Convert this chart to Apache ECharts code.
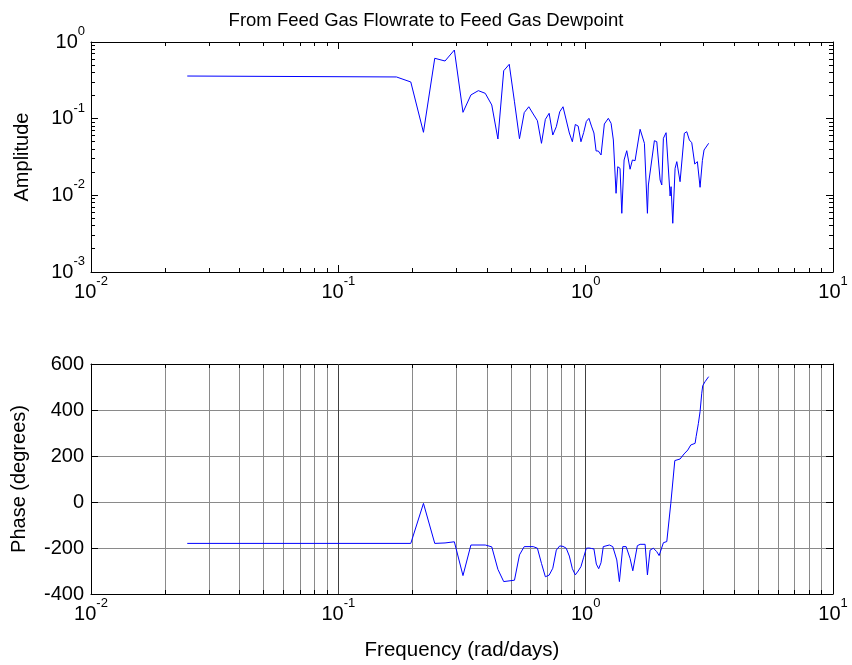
<!DOCTYPE html>
<html>
<head>
<meta charset="utf-8">
<title>From Feed Gas Flowrate to Feed Gas Dewpoint</title>
<script src="https://cdn.jsdelivr.net/npm/echarts@6/dist/echarts.min.js"></script>
<style>
  html, body { margin: 0; padding: 0; background: #fff; }
  #chart { width: 852px; height: 665px; }
</style>
</head>
<body>
<div id="chart"></div>
<script>
// Frequency response estimate: feed gas flowrate -> feed gas dewpoint

// Amplitude curve (frequency in rad/days, amplitude ratio)
const AMP_FREQ = [
  0.0245, 0.1718, 0.1963, 0.2209, 0.2454, 0.2700, 0.2945, 0.3191, 0.3436, 0.3682,
  0.3927, 0.4172, 0.4418, 0.4663, 0.4909, 0.5154, 0.5400, 0.5645, 0.5890, 0.6136,
  0.6381, 0.6627, 0.6872, 0.7118, 0.7363, 0.7609, 0.7854, 0.8099, 0.8345, 0.8590,
  0.8836, 0.9081, 0.9327, 0.9572, 0.9817, 1.0063, 1.0308, 1.0554, 1.0799, 1.102,
  1.125, 1.154, 1.190, 1.235, 1.267, 1.294, 1.327, 1.348, 1.377, 1.400,
  1.430, 1.466, 1.512, 1.545, 1.584, 1.609, 1.660, 1.691, 1.728, 1.777,
  1.793, 1.822, 1.896, 1.939, 2.000, 2.031, 2.062, 2.114, 2.195, 2.215,
  2.250, 2.299, 2.336, 2.370, 2.408, 2.447, 2.506, 2.563, 2.626, 2.685,
  2.761, 2.829, 2.901, 2.964, 3.010, 3.142
];
const AMPLITUDE = [
  0.360, 0.350, 0.301, 0.0664, 0.613, 0.565, 0.786, 0.121, 0.204, 0.232,
  0.214, 0.151, 0.0543, 0.422, 0.512, 0.166, 0.0548, 0.120, 0.143, 0.115,
  0.094, 0.0477, 0.098, 0.1175, 0.0612, 0.0785, 0.123, 0.143, 0.096, 0.065,
  0.050, 0.084, 0.080, 0.050, 0.066, 0.092, 0.101, 0.080, 0.065, 0.0379,
  0.0379, 0.0336, 0.0852, 0.1011, 0.0870, 0.0527, 0.01063, 0.0236, 0.0225, 0.00583,
  0.0289, 0.0382, 0.0219, 0.0289, 0.0283, 0.0390, 0.0727, 0.0697, 0.0477, 0.00583,
  0.01364, 0.01364, 0.0516, 0.0501, 0.01585, 0.01364, 0.0555, 0.0656, 0.0098, 0.01297,
  0.00432, 0.0225, 0.0275, 0.0275, 0.01506, 0.01506, 0.0645, 0.0676, 0.0527, 0.0486,
  0.0256, 0.0275, 0.01273, 0.0283, 0.0390, 0.0477
];

// Phase curve (frequency in rad/days, phase in degrees)
const PHASE_FREQ = [
  0.0245, 0.1963, 0.2209, 0.2454, 0.2700, 0.2945, 0.3191, 0.3436, 0.3927, 0.4172,
  0.4418, 0.4663, 0.5154, 0.5400, 0.5645, 0.6136, 0.6381, 0.6627, 0.6872, 0.7118,
  0.7363, 0.7609, 0.7854, 0.8099, 0.8345, 0.8590, 0.8836, 0.9081, 0.9327, 0.9572,
  0.9817, 1.0063, 1.0308, 1.0554, 1.0799, 1.1045, 1.1290, 1.1536, 1.1781, 1.247,
  1.287, 1.336, 1.369, 1.413, 1.457, 1.512, 1.551, 1.618, 1.660, 1.739,
  1.777, 1.822, 1.878, 1.939, 1.981, 2.062, 2.128, 2.160, 2.209, 2.236,
  2.293, 2.336, 2.408, 2.500, 2.588, 2.661, 2.770, 2.796, 2.856, 2.901,
  2.947, 2.974, 3.039, 3.142
];
const PHASE = [
  -180, -180, -6, -180, -178, -173, -320, -187, -187, -195,
  -293, -346, -340, -230, -194, -194, -201, -267, -325, -318,
  -288, -209, -191, -193, -201, -235, -290, -317, -300, -281,
  -240, -201, -200, -202, -204, -270, -290, -264, -194, -187,
  -194, -252, -346, -194, -194, -245, -299, -190, -184, -184,
  -317, -209, -201, -216, -233, -177, -172, -165, -6, -3,
  180, 175, 187, 209, 226, 248, 255, 284, 342, 393,
  473, 506, 523, 545
];

// Axis ticks
const FREQ_DECADES = [0.01, 0.1, 1, 10];
const AMP_DECADES = [0.001, 0.01, 0.1, 1];
const PHASE_TICKS = [-400, -200, 0, 200, 400, 600];

function minorLogTicks(decades) {
  const out = [];
  for (let i = 0; i < decades.length - 1; i++) {
    for (let m = 2; m <= 9; m++) out.push(+(m * decades[i]).toPrecision(3));
  }
  return out;
}
const FREQ_MINOR = minorLogTicks(FREQ_DECADES);
const AMP_MINOR = minorLogTicks(AMP_DECADES);

const FONT = '"Liberation Sans", Arial, Helvetica, sans-serif';
const BLUE = '#0000ff';
const GRID_GRAY = '#8a8a8a';
const GRID_DARK = '#404040';

const chart = echarts.init(document.getElementById('chart'), null, { renderer: 'canvas' });

function powerLabel(v) {
  const e = Math.round(Math.log10(v));
  return '{b|10}{e|' + e + '}';
}
const powerRich = {
  b: { fontSize: 20, lineHeight: 20, fontFamily: FONT, color: '#000' },
  e: { fontSize: 13, lineHeight: 13, fontFamily: FONT, color: '#000', padding: [0, 0, 21, 0] }
};

// Crisp 1px position matching the axis tick placement
function crisp(v) { return Math.floor(v) + 0.5; }

function logXAxis(gridIndex, position, withLabels, extra) {
  return Object.assign({
    type: 'log', logBase: 10, gridIndex, position,
    min: FREQ_DECADES[0], max: FREQ_DECADES[FREQ_DECADES.length - 1], splitNumber: 3,
    axisLine: { show: true, onZero: false, lineStyle: { color: '#000', width: 1 } },
    axisTick: { show: true, inside: true, length: 7, lineStyle: { color: '#000' } },
    axisLabel: withLabels ? {
      show: true, margin: 10, formatter: powerLabel, rich: powerRich,
      showMinLabel: true, showMaxLabel: true, hideOverlap: false
    } : { show: false },
    splitLine: { show: false }, minorTick: { show: false }
  }, extra || {});
}

function ampYAxis(position, withLabels) {
  return {
    type: 'log', logBase: 10, gridIndex: 0, position,
    min: AMP_DECADES[0], max: AMP_DECADES[AMP_DECADES.length - 1], splitNumber: 3,
    name: withLabels ? 'Amplitude' : '', nameLocation: 'middle', nameGap: 59,
    nameTextStyle: { fontSize: 20, fontFamily: FONT, color: '#000' },
    axisLine: { show: true, onZero: false, lineStyle: { color: '#000', width: 1 } },
    axisTick: { show: true, inside: true, length: 7, lineStyle: { color: '#000' } },
    axisLabel: withLabels ? {
      show: true, margin: 6, formatter: powerLabel, rich: powerRich,
      showMinLabel: true, showMaxLabel: true, hideOverlap: false
    } : { show: false },
    splitLine: { show: false }, minorTick: { show: false }
  };
}

function phaseYAxis(position, withLabels) {
  return {
    type: 'value', gridIndex: 1, position,
    min: PHASE_TICKS[0], max: PHASE_TICKS[PHASE_TICKS.length - 1], interval: 200,
    name: withLabels ? 'Phase (degrees)' : '', nameLocation: 'middle', nameGap: 62,
    nameTextStyle: { fontSize: 20, fontFamily: FONT, color: '#000' },
    axisLine: { show: true, onZero: false, lineStyle: { color: '#000', width: 1 } },
    axisTick: { show: true, inside: true, length: 7, lineStyle: { color: '#000' } },
    axisLabel: withLabels ? {
      show: true, margin: 7, fontSize: 20, fontFamily: FONT, color: '#000',
      showMinLabel: true, showMaxLabel: true, hideOverlap: false
    } : { show: false },
    splitLine: withLabels ? { show: true, lineStyle: { color: GRID_GRAY, width: 1 } } : { show: false }
  };
}

// Short inward ticks on the top and bottom edges of a plot box
function xMinorTickSeries(xAxisIndex, yAxisIndex, yRef) {
  return {
    type: 'custom', xAxisIndex, yAxisIndex, silent: true, z: 5, clip: false,
    data: FREQ_MINOR.map(v => [v, yRef]),
    renderItem(params, api) {
      const cs = params.coordSys;
      const x = crisp(api.coord([api.value(0), yRef])[0]);
      const st = { stroke: '#000', lineWidth: 1 };
      return { type: 'group', children: [
        { type: 'line', shape: { x1: x, y1: cs.y + cs.height, x2: x, y2: cs.y + cs.height - 4 }, style: st },
        { type: 'line', shape: { x1: x, y1: cs.y, x2: x, y2: cs.y + 4 }, style: st }
      ] };
    }
  };
}

// Short inward ticks on the left and right edges of the amplitude box
function yMinorTickSeries() {
  return {
    type: 'custom', xAxisIndex: 0, yAxisIndex: 0, silent: true, z: 5, clip: false,
    data: AMP_MINOR.map(v => [1, v]),
    renderItem(params, api) {
      const cs = params.coordSys;
      const y = crisp(api.coord([1, api.value(1)])[1]);
      const st = { stroke: '#000', lineWidth: 1 };
      return { type: 'group', children: [
        { type: 'line', shape: { x1: cs.x, y1: y, x2: cs.x + 4, y2: y }, style: st },
        { type: 'line', shape: { x1: cs.x + cs.width, y1: y, x2: cs.x + cs.width - 4, y2: y }, style: st }
      ] };
    }
  };
}

// Vertical grid lines of the phase plot (decade lines drawn darker)
function phaseGridSeries() {
  const inner = FREQ_DECADES.slice(1, -1);
  const values = FREQ_MINOR.concat(inner);
  return {
    type: 'custom', xAxisIndex: 2, yAxisIndex: 2, silent: true, z: 1, clip: false,
    data: values.map(v => [v, 0]),
    renderItem(params, api) {
      const cs = params.coordSys;
      const v = api.value(0);
      const x = crisp(api.coord([v, 0])[0]);
      const major = inner.some(d => Math.abs(d - v) < 1e-9);
      return { type: 'line', shape: { x1: x, y1: cs.y, x2: x, y2: cs.y + cs.height },
        style: { stroke: major ? GRID_DARK : GRID_GRAY, lineWidth: 1 } };
    }
  };
}

const option = {
  animation: false,
  backgroundColor: '#ffffff',
  textStyle: { fontFamily: FONT },
  title: {
    text: 'From Feed Gas Flowrate to Feed Gas Dewpoint',
    left: 'center', top: 6,
    textStyle: { fontSize: 18.5, fontWeight: 'normal', fontFamily: FONT, color: '#000' }
  },
  grid: [
    { left: 91, top: 42, width: 742, height: 230, containLabel: false },
    { left: 91, top: 364, width: 742, height: 230, containLabel: false }
  ],
  xAxis: [
    logXAxis(0, 'bottom', true),
    logXAxis(0, 'top', false),
    logXAxis(1, 'bottom', true, {
      name: 'Frequency (rad/days)', nameLocation: 'middle', nameGap: 46,
      nameTextStyle: { fontSize: 20.5, fontFamily: FONT, color: '#000' }
    }),
    logXAxis(1, 'top', false)
  ],
  yAxis: [
    ampYAxis('left', true),
    ampYAxis('right', false),
    phaseYAxis('left', true),
    phaseYAxis('right', false)
  ],
  series: [
    phaseGridSeries(),
    xMinorTickSeries(0, 0, 0.01),
    yMinorTickSeries(),
    xMinorTickSeries(2, 2, 0),
    {
      name: 'Amplitude', type: 'line', xAxisIndex: 0, yAxisIndex: 0, z: 3,
      data: AMP_FREQ.map((f, i) => [f, AMPLITUDE[i]]),
      showSymbol: false, symbol: 'none', smooth: false,
      lineStyle: { color: BLUE, width: 1 }
    },
    {
      name: 'Phase', type: 'line', xAxisIndex: 2, yAxisIndex: 2, z: 3,
      data: PHASE_FREQ.map((f, i) => [f, PHASE[i]]),
      showSymbol: false, symbol: 'none', smooth: false,
      lineStyle: { color: BLUE, width: 1 }
    }
  ]
};

chart.setOption(option);
</script>
</body>
</html>
